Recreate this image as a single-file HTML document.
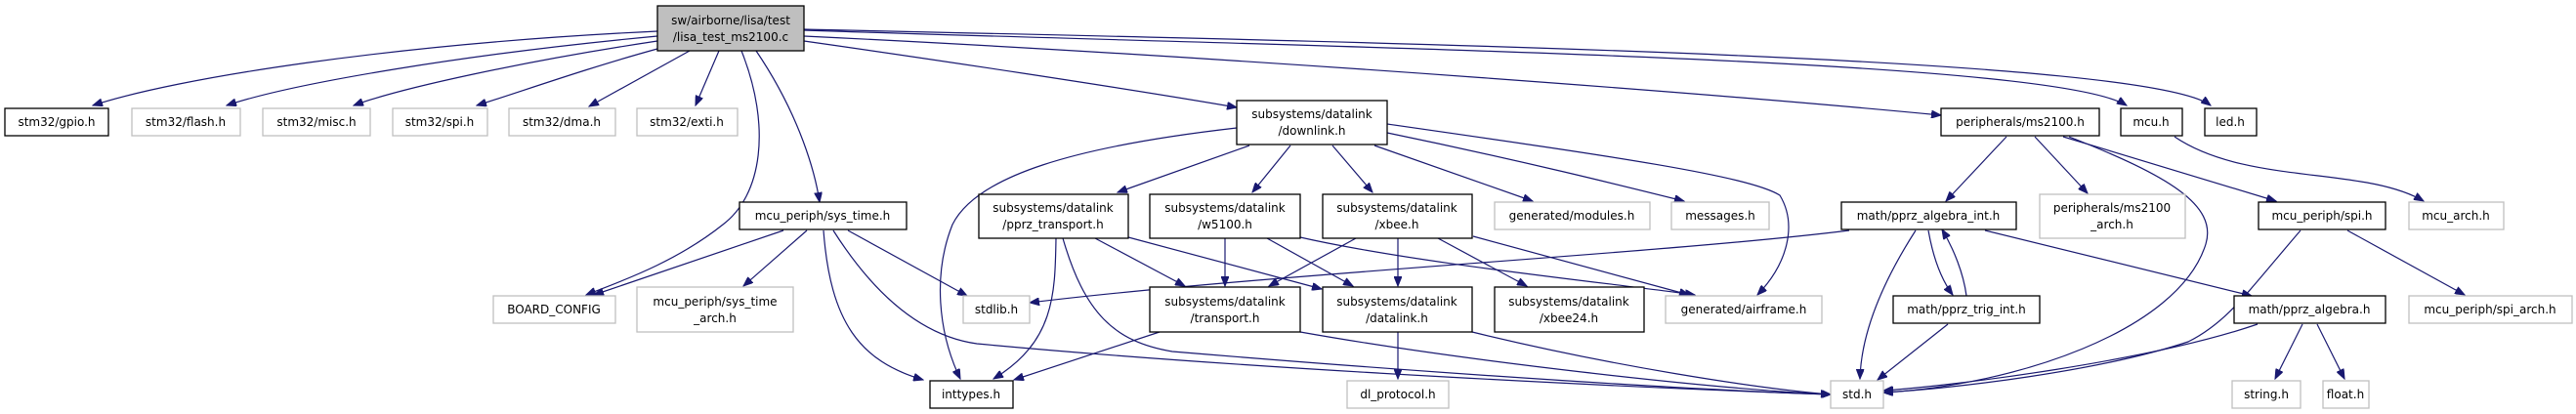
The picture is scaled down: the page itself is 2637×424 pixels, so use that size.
<!DOCTYPE html>
<html><head><meta charset="utf-8"><style>
html,body{margin:0;padding:0;background:#fff;}
svg{display:block;}
text{font-family:"DejaVu Sans","Liberation Sans",sans-serif;font-size:12px;fill:#000;}
.b{fill:#fff;stroke:#000;stroke-width:1.3;}
.g{fill:#fff;stroke:#bfbfbf;stroke-width:1.3;}
.e{fill:none;stroke:#191970;stroke-width:1.2;}
</style></head><body>
<svg width="2637" height="424" viewBox="0 0 2637 424" xmlns="http://www.w3.org/2000/svg">
<defs><marker id="a" markerWidth="11" markerHeight="8" refX="10" refY="4" orient="auto" markerUnits="userSpaceOnUse"><path d="M0,0 L10,4 L0,8 z" fill="#191970" stroke="#191970"/></marker></defs>
<g marker-end="url(#a)">
<!-- main edges -->
<path class="e" d="M673,32 C400,45 180,80 95,108"/>
<path class="e" d="M673,37 C480,55 300,85 232,108"/>
<path class="e" d="M673,42 C540,62 410,90 362,108"/>
<path class="e" d="M673,50 C600,70 530,95 488,108"/>
<path class="e" d="M706,52 L603,109"/>
<path class="e" d="M736,52 L712,108"/>
<path class="e" d="M759,52 C790,130 780,200 740,230 C690,270 630,290 600,302"/>
<path class="e" d="M774,52 C820,120 835,180 839,207"/>
<path class="e" d="M823,42 C950,60 1150,90 1266,110"/>
<path class="e" d="M823,37 C1300,60 1800,100 1987,118"/>
<path class="e" d="M823,31 C1400,50 2100,60 2177,108"/>
<path class="e" d="M823,30 C1500,45 2200,60 2263,108"/>
<!-- sys_time -->
<path class="e" d="M802,236 L608,302"/>
<path class="e" d="M826,236 L761,293"/>
<path class="e" d="M868,236 L990,303"/>
<path class="e" d="M843,236 C850,330 880,370 945,389"/>
<path class="e" d="M853,236 C900,310 950,345 1000,352 C1300,380 1700,398 1874,404"/>
<!-- downlink -->
<path class="e" d="M1266,131 C1100,150 1000,180 975,230 C955,280 960,340 983,388"/>
<path class="e" d="M1279,149 L1144,197"/>
<path class="e" d="M1321,149 L1282,197"/>
<path class="e" d="M1364,149 L1405,197"/>
<path class="e" d="M1407,149 L1569,206"/>
<path class="e" d="M1420,136 C1560,165 1660,190 1724,206"/>
<path class="e" d="M1420,127 C1650,160 1790,180 1822,200 C1840,230 1830,270 1799,302"/>
<!-- pprz_transport -->
<path class="e" d="M1081,244 C1080,300 1080,350 1017,388"/>
<path class="e" d="M1088,244 C1110,320 1140,350 1200,360 C1500,385 1750,400 1874,404"/>
<path class="e" d="M1121,244 L1213,293"/>
<path class="e" d="M1155,243 L1353,296"/>
<!-- w5100 -->
<path class="e" d="M1254,244 L1254,293"/>
<path class="e" d="M1297,244 L1385,293"/>
<path class="e" d="M1331,243 C1450,270 1650,290 1735,302"/>
<!-- xbee -->
<path class="e" d="M1388,244 L1299,293"/>
<path class="e" d="M1431,244 L1431,293"/>
<path class="e" d="M1472,244 L1563,293"/>
<path class="e" d="M1508,242 L1729,302"/>
<!-- transport / datalink -->
<path class="e" d="M1187,340 L1038,389"/>
<path class="e" d="M1331,340 C1500,370 1750,398 1874,404"/>
<path class="e" d="M1431,340 L1431,388"/>
<path class="e" d="M1507,340 C1650,375 1800,398 1874,404"/>
<!-- algebra_int -->
<path class="e" d="M1893,236 C1700,260 1300,280 1054,310"/>
<path class="e" d="M1961,236 C1920,300 1905,350 1904,388"/>
<path class="e" d="M1974,236 C1980,270 1990,290 1999,302"/>
<path class="e" d="M2013,303 C2010,280 2000,255 1988,235"/>
<path class="e" d="M2032,236 L2305,303"/>
<path class="e" d="M1994,332 L1922,389"/>
<!-- ms2100 -->
<path class="e" d="M2054,140 L1992,206"/>
<path class="e" d="M2083,140 L2137,198"/>
<path class="e" d="M2112,140 L2330,206"/>
<path class="e" d="M2118,140 C2220,180 2270,210 2258,250 C2230,340 2060,395 1928,402"/>
<path class="e" d="M2226,140 C2300,190 2420,170 2481,206"/>
<!-- spi -->
<path class="e" d="M2355,236 C2300,300 2280,330 2240,350 C2150,380 2000,398 1928,402"/>
<path class="e" d="M2403,236 L2523,302"/>
<!-- pprz_algebra -->
<path class="e" d="M2311,332 C2200,370 2000,395 1928,400"/>
<path class="e" d="M2357,332 L2329,388"/>
<path class="e" d="M2372,332 L2400,388"/>
</g>
<!-- nodes -->
<rect x="673" y="6" width="150" height="46" fill="#bfbfbf" stroke="#000" stroke-width="1.3"/>
<text x="748" y="25" text-anchor="middle">sw/airborne/lisa/test</text>
<text x="748" y="42" text-anchor="middle">/lisa_test_ms2100.c</text>

<rect class="b" x="5" y="111" width="106" height="28"/><text x="58" y="129" text-anchor="middle">stm32/gpio.h</text>
<rect class="g" x="135" y="111" width="111" height="28"/><text x="190" y="129" text-anchor="middle">stm32/flash.h</text>
<rect class="g" x="269" y="111" width="110" height="28"/><text x="324" y="129" text-anchor="middle">stm32/misc.h</text>
<rect class="g" x="402" y="111" width="97" height="28"/><text x="450" y="129" text-anchor="middle">stm32/spi.h</text>
<rect class="g" x="521" y="111" width="109" height="28"/><text x="575" y="129" text-anchor="middle">stm32/dma.h</text>
<rect class="g" x="652" y="111" width="103" height="28"/><text x="703" y="129" text-anchor="middle">stm32/exti.h</text>

<rect class="b" x="757" y="207" width="171" height="28"/><text x="842" y="225" text-anchor="middle">mcu_periph/sys_time.h</text>
<rect class="g" x="505" y="303" width="125" height="28"/><text x="567" y="321" text-anchor="middle">BOARD_CONFIG</text>
<rect class="g" x="652" y="294" width="160" height="46"/><text x="732" y="313" text-anchor="middle">mcu_periph/sys_time</text><text x="732" y="330" text-anchor="middle">_arch.h</text>

<rect class="b" x="1266" y="103" width="154" height="45"/><text x="1343" y="121" text-anchor="middle">subsystems/datalink</text><text x="1343" y="138" text-anchor="middle">/downlink.h</text>
<rect class="b" x="1002" y="199" width="153" height="45"/><text x="1078" y="217" text-anchor="middle">subsystems/datalink</text><text x="1078" y="234" text-anchor="middle">/pprz_transport.h</text>
<rect class="b" x="1177" y="199" width="154" height="45"/><text x="1254" y="217" text-anchor="middle">subsystems/datalink</text><text x="1254" y="234" text-anchor="middle">/w5100.h</text>
<rect class="b" x="1354" y="199" width="153" height="45"/><text x="1430" y="217" text-anchor="middle">subsystems/datalink</text><text x="1430" y="234" text-anchor="middle">/xbee.h</text>
<rect class="g" x="1530" y="207" width="159" height="28"/><text x="1609" y="225" text-anchor="middle">generated/modules.h</text>
<rect class="g" x="1711" y="207" width="100" height="28"/><text x="1761" y="225" text-anchor="middle">messages.h</text>

<rect class="g" x="986" y="303" width="68" height="28"/><text x="1020" y="321" text-anchor="middle">stdlib.h</text>
<rect class="b" x="1177" y="294" width="154" height="46"/><text x="1254" y="313" text-anchor="middle">subsystems/datalink</text><text x="1254" y="330" text-anchor="middle">/transport.h</text>
<rect class="b" x="1354" y="294" width="153" height="46"/><text x="1430" y="313" text-anchor="middle">subsystems/datalink</text><text x="1430" y="330" text-anchor="middle">/datalink.h</text>
<rect class="b" x="1530" y="294" width="153" height="46"/><text x="1606" y="313" text-anchor="middle">subsystems/datalink</text><text x="1606" y="330" text-anchor="middle">/xbee24.h</text>
<rect class="g" x="1705" y="303" width="160" height="28"/><text x="1785" y="321" text-anchor="middle">generated/airframe.h</text>

<rect class="b" x="952" y="390" width="85" height="28"/><text x="994" y="408" text-anchor="middle">inttypes.h</text>
<rect class="g" x="1379" y="390" width="104" height="28"/><text x="1431" y="408" text-anchor="middle">dl_protocol.h</text>
<rect class="g" x="1874" y="390" width="54" height="28"/><text x="1901" y="408" text-anchor="middle">std.h</text>

<rect class="b" x="1987" y="111" width="162" height="28"/><text x="2068" y="129" text-anchor="middle">peripherals/ms2100.h</text>
<rect class="b" x="2171" y="111" width="63" height="28"/><text x="2202" y="129" text-anchor="middle">mcu.h</text>
<rect class="b" x="2257" y="111" width="53" height="28"/><text x="2283" y="129" text-anchor="middle">led.h</text>

<rect class="b" x="1885" y="207" width="179" height="28"/><text x="1974" y="225" text-anchor="middle">math/pprz_algebra_int.h</text>
<rect class="g" x="2088" y="199" width="149" height="45"/><text x="2162" y="217" text-anchor="middle">peripherals/ms2100</text><text x="2162" y="234" text-anchor="middle">_arch.h</text>
<rect class="b" x="2312" y="207" width="130" height="28"/><text x="2377" y="225" text-anchor="middle">mcu_periph/spi.h</text>
<rect class="g" x="2466" y="207" width="97" height="28"/><text x="2514" y="225" text-anchor="middle">mcu_arch.h</text>

<rect class="b" x="1938" y="303" width="150" height="28"/><text x="2013" y="321" text-anchor="middle">math/pprz_trig_int.h</text>
<rect class="b" x="2287" y="303" width="155" height="28"/><text x="2364" y="321" text-anchor="middle">math/pprz_algebra.h</text>
<rect class="g" x="2466" y="303" width="167" height="28"/><text x="2549" y="321" text-anchor="middle">mcu_periph/spi_arch.h</text>

<rect class="g" x="2285" y="390" width="70" height="28"/><text x="2320" y="408" text-anchor="middle">string.h</text>
<rect class="g" x="2378" y="390" width="47" height="28"/><text x="2401" y="408" text-anchor="middle">float.h</text>
</svg>
</body></html>
